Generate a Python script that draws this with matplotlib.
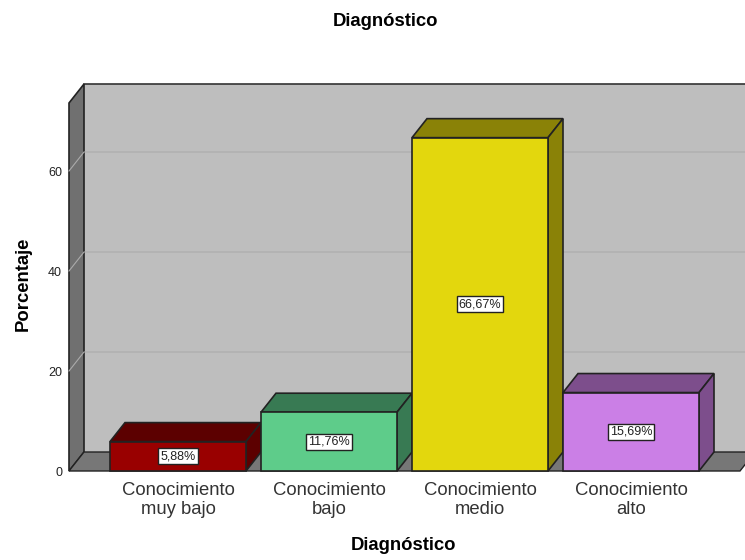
import matplotlib
matplotlib.use("Agg")
import matplotlib.pyplot as plt
from matplotlib.patches import Polygon, Rectangle

plt.rcParams["font.family"] = ["Liberation Sans", "DejaVu Sans"]

categories = ["Conocimiento\nmuy bajo", "Conocimiento\nbajo", "Conocimiento\nmedio", "Conocimiento\nalto"]
values = [5.88, 11.76, 66.67, 15.69]
front_colors = ["#990000", "#5ECC8A", "#E3D70D", "#CB7FE6"]
dark_colors = ["#5C0000", "#387A53", "#8A8207", "#7D4E8C"]
y_ticks = [0, 20, 40, 60]

W, H = 745, 560
BAR_W = 136 / 151
DX = 15 / 151   # depth of the 3d box, in category units
DY = 19 / 5     # same, in percent units
EDGE = "#222222"

fig = plt.figure(figsize=(W / 100, H / 100), dpi=100, facecolor="white")
ax = fig.add_axes([69 / W, (H - 471) / H, 676 / W, 387 / H])
x0, x1 = (69 - 178) / 151, (745 - 178) / 151
y_top = 387 / 5
ax.set_xlim(x0, x1)
ax.set_ylim(0, y_top)
ax.patch.set_visible(False)
for s in ax.spines.values():
    s.set_visible(False)


def poly(pts, fc, z, lw=1.2, ec=EDGE):
    ax.add_patch(Polygon(pts, closed=True, fc=fc, ec=ec, lw=lw, zorder=z, clip_on=False))


# back wall, left wall, floor
top = y_top - DY
poly([(x0 + DX, DY), (x1 + DX, DY), (x1 + DX, y_top), (x0 + DX, y_top)], "#BEBEBE", 1, lw=0, ec="none")
ax.plot([x0 + DX, x1], [y_top, y_top], color="#333333", lw=1.2, zorder=2, clip_on=False)
poly([(x0, 0), (x0 + DX, DY), (x0 + DX, y_top), (x0, top)], "#707070", 2)
floor_end = (740 - 178) / 151
poly([(x0, 0), (floor_end, 0), (floor_end + DX, DY), (x0 + DX, DY)], "#777777", 2, lw=1)

for t in y_ticks[1:]:
    ax.plot([x0, x0 + DX, x1], [t, t + DY, t + DY], color="#ABABAB", lw=0.8, zorder=3, clip_on=False)

for i, v in enumerate(values):
    left = i - BAR_W / 2
    right = i + BAR_W / 2
    poly([(left, v), (right, v), (right + DX, v + DY), (left + DX, v + DY)], dark_colors[i], 4)
    poly([(right, 0), (right + DX, DY), (right + DX, v + DY), (right, v)], dark_colors[i], 4)
    ax.add_patch(Rectangle((left, 0), BAR_W, v, fc=front_colors[i], ec=EDGE, lw=1.2, zorder=5, clip_on=False))
    ax.text(i, v / 2, f"{v:.2f}%".replace(".", ","), ha="center", va="center", fontsize=9,
            color="#222222", zorder=6,
            bbox=dict(boxstyle="square,pad=0.16", fc="white", ec="#222222", lw=1))

ax.set_xticks(range(len(categories)))
ax.set_xticklabels(categories, fontsize=13.3, color="#333333", linespacing=1.12)
ax.set_yticks(y_ticks)
ax.set_yticklabels([str(t) for t in y_ticks], fontsize=9, color="#222222")
ax.tick_params(axis="x", length=0, pad=8)
ax.tick_params(axis="y", length=0, pad=5)

ax.set_title("Diagnóstico", fontsize=13.3, fontweight="bold", x=(385 - 69) / 676, y=1, pad=42)
ax.set_xlabel("Diagnóstico", fontsize=13.3, fontweight="bold", x=(404 - 69) / 676, labelpad=14)
ax.set_ylabel("Porcentaje", fontsize=13.3, fontweight="bold", y=(471 - 284) / 387, labelpad=12)

fig.savefig("out.png", dpi=100)
